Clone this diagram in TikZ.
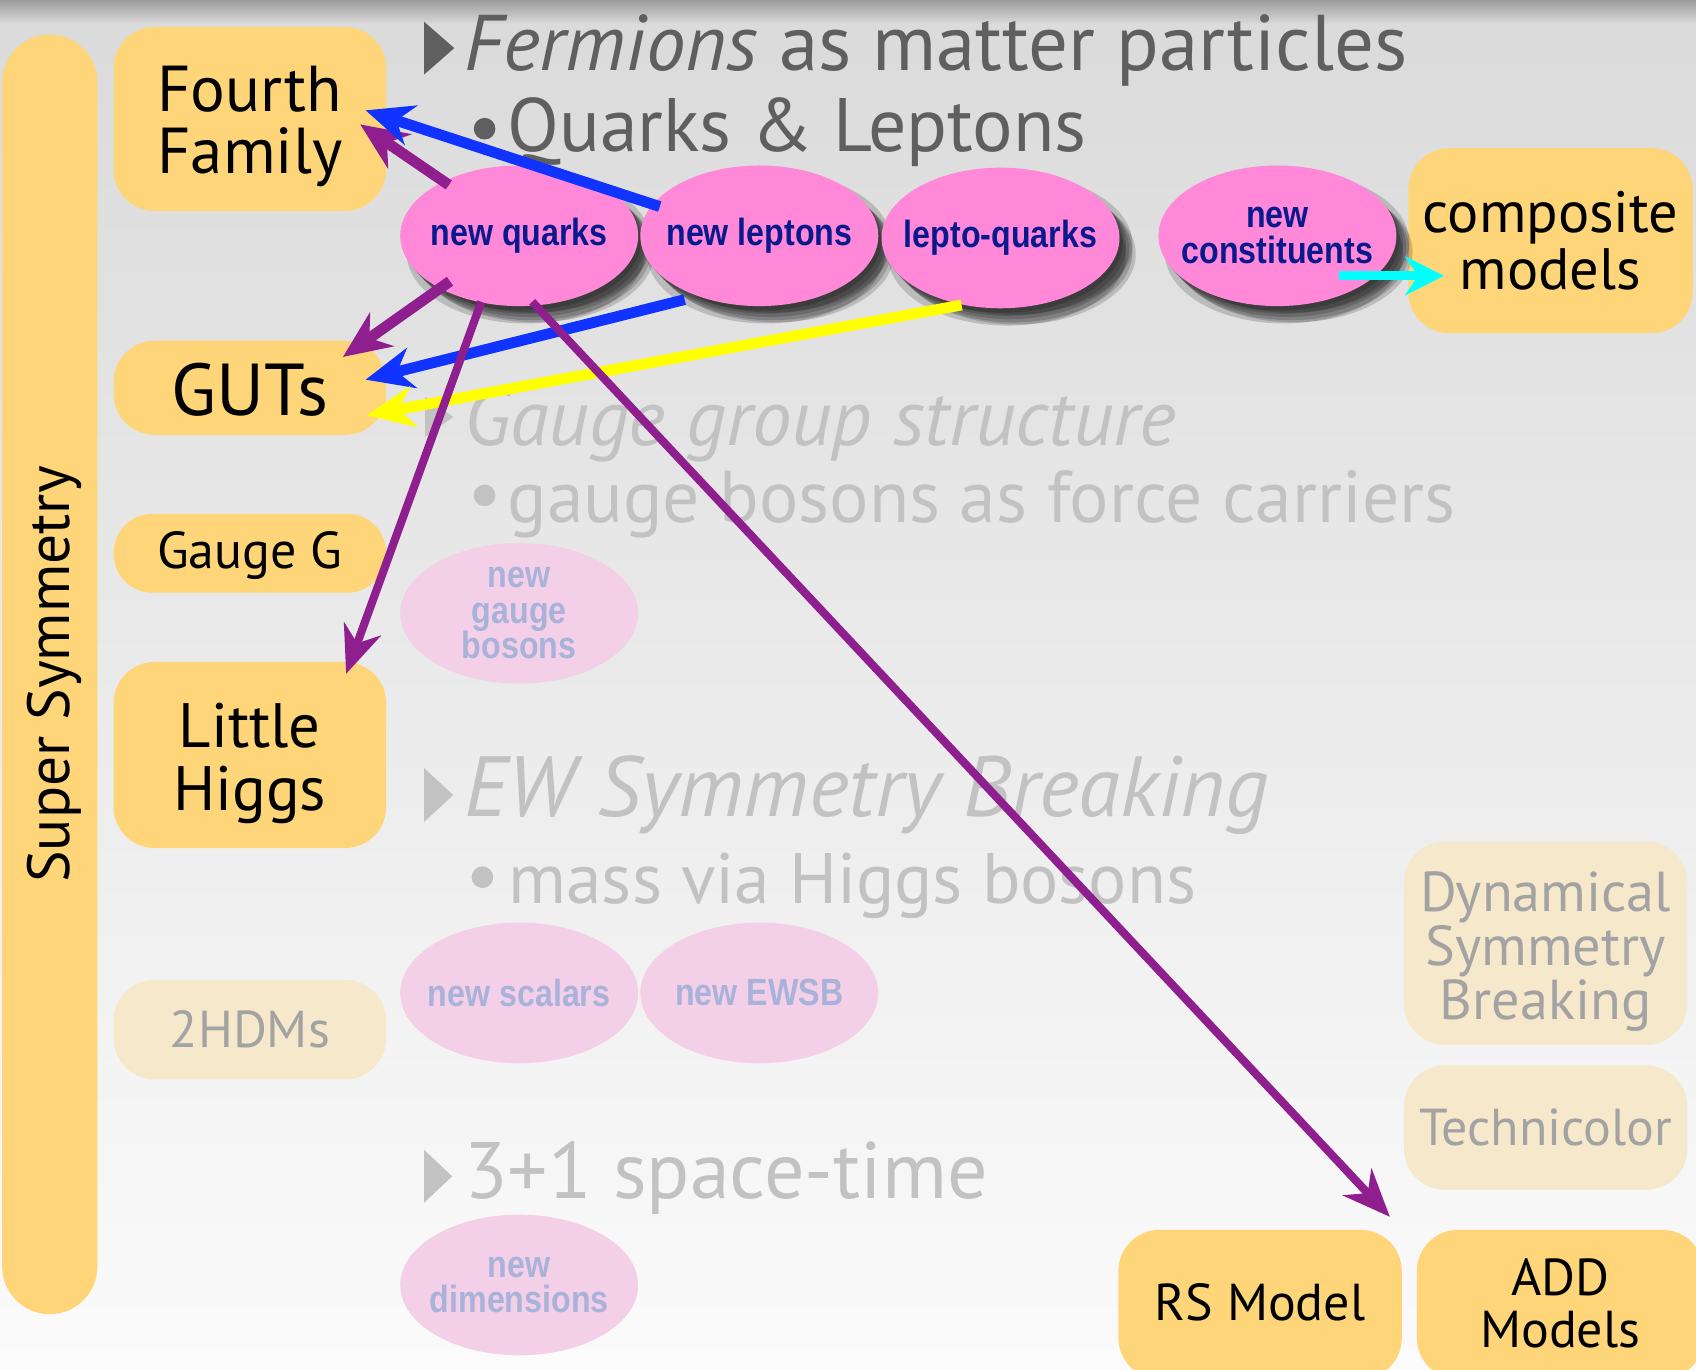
\documentclass[tikz,border=0pt]{standalone}
\usepackage{fontspec}
\setmainfont{PT Sans}
\newfontfamily\ellfont[FakeStretch=0.85]{Liberation Sans}
\usetikzlibrary{arrows.meta,calc,shapes.geometric}
\definecolor{bgtop}{HTML}{DADADA}
\definecolor{bgbot}{HTML}{FBFBFB}
\definecolor{bandc}{HTML}{9C9C9C}
\definecolor{boxc}{HTML}{FFD57A}
\definecolor{fboxc}{HTML}{F6E8CA}
\definecolor{ftextc}{HTML}{A3A3A3}
\definecolor{pinkc}{HTML}{FF88D8}
\definecolor{fpinkc}{HTML}{F4CFE8}
\definecolor{navyc}{HTML}{0A1A8C}
\definecolor{fnavyc}{HTML}{A9B3DA}
\definecolor{headc}{HTML}{5F5F5F}
\definecolor{fheadc}{HTML}{C2C2C2}
\definecolor{bluec}{HTML}{1133FF}
\definecolor{purplec}{HTML}{8F1F8F}
\definecolor{yellowc}{HTML}{FFFF00}
\definecolor{cyanc}{HTML}{00FFFF}
\begin{document}
\begin{tikzpicture}[x=1pt,y=-1pt,
  box/.style={rectangle, rounded corners=38pt, fill=boxc, inner sep=0pt},
  fbox/.style={box, fill=fboxc},
  boxt/.style={inner sep=0pt, align=center, text=black},
  fboxt/.style={boxt, text=ftextc},
  shad/.style={preaction={fill=black, fill opacity=#1, transform canvas={xshift=3pt, yshift=-4pt}},
               preaction={fill=black, fill opacity=#1, transform canvas={xshift=6pt, yshift=-7pt}},
               preaction={fill=black, fill opacity=#1, transform canvas={xshift=9pt, yshift=-10pt}},
               preaction={fill=black, fill opacity=#1, transform canvas={xshift=12pt, yshift=-13pt}},
               preaction={fill=black, fill opacity=#1, transform canvas={xshift=15pt, yshift=-15pt}},
               preaction={fill=black, fill opacity=#1, transform canvas={xshift=12pt, yshift=-6pt}},
               preaction={fill=black, fill opacity=#1, transform canvas={xshift=6pt, yshift=-16pt}}},
  ellt/.style={inner sep=0pt, align=center, font=\ellfont\bfseries\fontsize{35}{33}\selectfont},
  ell/.style={ellipse, minimum width=220pt, minimum height=130pt, inner sep=0pt, fill=pinkc,
              shad=0.17, label={[ellt, text=navyc]center:#1}},
  fell/.style={ellipse, minimum width=220pt, minimum height=130pt, inner sep=0pt, fill=fpinkc,
              label={[ellt, text=fnavyc]center:#1}},
  head/.style={anchor=base west, inner sep=0pt, text=headc},
  fhead/.style={head, text=fheadc},
  arr/.style={line width=10pt, -{Stealth[length=44pt,width=38pt,inset=14pt]}},
  larr/.style={line width=7.5pt, -{Stealth[length=44pt,width=36pt,inset=14pt]}},
]
\useasboundingbox (0,0) rectangle (1568,1266);
% background
\shade[top color=bgtop, bottom color=bgbot] (0,0) rectangle (1568,1266);
\shade[top color=bandc, bottom color=bgtop] (0,0) rectangle (1568,22);

% super symmetry bar
\node[box, rounded corners=44pt, minimum width=88pt, minimum height=1183pt] (susy) at (46,623.5) {};
\node[rotate=90, font=\fontsize{55}{55}\selectfont] (susyt) at ($(susy.center)+(4,0)$) {Super Symmetry};

% left boxes
\node[box, minimum width=252pt, minimum height=170pt] (ff) at (231,110) {};
\node[boxt, font=\fontsize{60}{57}\selectfont] (fft) at ($(ff.center)+(0,7)$) {Fourth\\Family};
\node[box, minimum width=252pt, minimum height=87pt] (guts) at (231,358.5) {};
\node[boxt, font=\fontsize{68}{60}\selectfont] (gutst) at ($(guts.center)+(0,2)$) {GUTs};
\node[box, rounded corners=36pt, minimum width=252pt, minimum height=73pt] (gg) at (231,511.5) {};
\node[boxt, font=\fontsize{48}{48}\selectfont] (ggt) at ($(gg.center)+(0,2)$) {Gauge G};
\node[box, minimum width=252pt, minimum height=172pt] (lh) at (231,698) {};
\node[boxt, font=\fontsize{58}{58}\selectfont] (lht) at ($(lh.center)+(0,8)$) {Little\\Higgs};
\node[fbox, minimum width=252pt, minimum height=92pt] (hdm) at (231,952) {};
\node[fboxt, font=\fontsize{48}{48}\selectfont] (hdmt) at (hdm.center) {2HDMs};

% right boxes
\node[box, minimum width=263pt, minimum height=171pt] (cm) at (1433.5,222.5) {};
\node[boxt, font=\fontsize{54}{52}\selectfont] (cmt) at (cm.center) {composite\\models};
\node[fbox, minimum width=262pt, minimum height=188pt] (dsb) at (1429,872) {};
\node[fboxt, font=\fontsize{52}{50}\selectfont] (dsbt) at ($(dsb.center)+(0,8)$) {Dynamical\\Symmetry\\Breaking};
\node[fbox, minimum width=262pt, minimum height=115pt] (tc) at (1429,1042.5) {};
\node[fboxt, font=\fontsize{48}{48}\selectfont] (tct) at (tc.center) {Technicolor};
\node[box, minimum width=262pt, minimum height=138pt] (rs) at (1165,1206) {};
\node[boxt, font=\fontsize{48}{48}\selectfont] (rst) at ($(rs.center)+(0,-2)$) {RS Model};
\node[box, minimum width=265pt, minimum height=138pt] (add) at (1442.5,1206) {};
\node[boxt, font=\fontsize{48}{48}\selectfont] (addt) at ($(add.center)+(0,-1)$) {ADD\\Models};

% headings
\fill[headc] (392,20) -- (420,44.5) -- (392,69) -- cycle;
\node[head, font=\fontsize{73}{73}\selectfont] (h1) at (429,65) {\itshape Fermions\upshape{} as matter particles};
\fill[headc] (448,119) circle (10);
\node[head, font=\fontsize{70}{70}\selectfont] (h1b) at (469,140) {Quarks \& Leptons};

\fill[fheadc] (393,367) -- (419,385.5) -- (393,404) -- cycle;
\node[fhead, font=\fontsize{73}{73}\selectfont] (h2) at (429,412) {\itshape Gauge group structure};
\fill[fheadc] (448,458) circle (10);
\node[fhead, font=\fontsize{68}{68}\selectfont] (h2b) at (469,483) {gauge bosons as force carriers};

\fill[fheadc] (392,710) -- (419,735) -- (392,760) -- cycle;
\node[fhead, font=\fontsize{79}{79}\selectfont] (h3) at (429,755) {\itshape EW Symmetry Breaking};
\fill[fheadc] (446,811) circle (10);
\node[fhead, font=\fontsize{66}{66}\selectfont] (h3b) at (470,835) {mass via Higgs bosons};

\fill[fheadc] (392,1063) -- (418,1087.5) -- (392,1112) -- cycle;
\node[fhead, font=\fontsize{74}{74}\selectfont] (h4) at (429,1108) {3+1 space-time};

% faded ellipses
\node[fell={\fontsize{35}{29}\selectfont new\\gauge\\bosons}] (ngb) at (480,567) {};
\node[fell={new scalars}] (ns) at (480,918) {};
\node[fell={new EWSB}] (nw) at (702,918) {};
\node[fell={\fontsize{35}{38}\selectfont new\\dimensions}] (nd) at (480,1188) {};

% bright ellipses
\node[ell={new quarks}] (nq) at (480,218) {};
\node[ell={new leptons}] (nl) at (702,218) {};
\node[ell={lepto-quarks}] (lq) at (925,220) {};
\node[ell={new\\constituents}] (nc) at (1181,218) {};

% arrows
\draw[arr, purplec] ($(nq.center)+(-65,-47)$) -- ($(ff.center)+(102,5)$);
\draw[arr, bluec] ($(nl.center)+(-92,-27)$) -- ($(ff.center)+(107,-8)$);
\draw[arr, purplec] ($(nq.center)+(-64,42)$) -- ($(guts.center)+(86,-28.5)$);
\draw[arr, bluec] ($(nl.center)+(-69,59)$) -- ($(guts.center)+(107,-7.5)$);
\draw[arr, yellowc] ($(lq.center)+(-36,62)$) -- ($(guts.center)+(108,25.5)$);
\draw[larr, purplec] ($(nq.center)+(-35,61)$) -- ($(lh.center)+(89,-75)$);
\draw[larr, purplec] ($(nq.center)+(12,61)$) -- ($(rs.center)+(120,-81)$);
\draw[cyanc, line width=8pt, -{Stealth[length=36pt,width=36pt,inset=12pt]}] ($(nc.center)+(57,37)$) -- ($(cm.center)+(-98.5,32.5)$);
\end{tikzpicture}
\end{document}
